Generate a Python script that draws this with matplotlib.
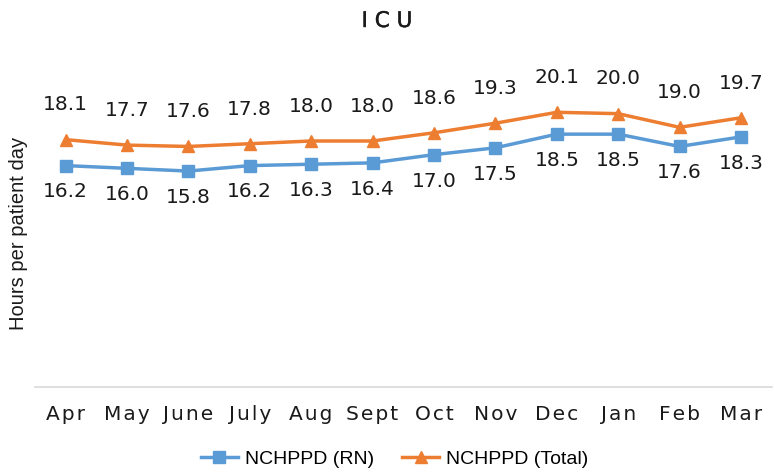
import matplotlib
matplotlib.use("Agg")
import matplotlib.pyplot as plt
import matplotlib.patheffects as pe

plt.rcParams['font.family'] = ['DejaVu Sans']

# 資料
months = ['Apr', 'May', 'June', 'July', 'Aug', 'Sept', 'Oct', 'Nov', 'Dec', 'Jan', 'Feb', 'Mar']
rn = [16.2, 16.0, 15.8, 16.2, 16.3, 16.4, 17.0, 17.5, 18.5, 18.5, 17.6, 18.3]
total = [18.1, 17.7, 17.6, 17.8, 18.0, 18.0, 18.6, 19.3, 20.1, 20.0, 19.0, 19.7]

blue = '#5B9BD5'
orange = '#ED7D31'

fig = plt.figure(figsize=(7.74, 4.72), dpi=100)
ax = fig.add_axes([0.045, 0.18, 0.952, 0.724])

x = list(range(len(months)))
ax.plot(x, rn, color=blue, linewidth=2.5, marker='s', markersize=9, label='NCHPPD (RN)')
ax.plot(x, total, color=orange, linewidth=2.5, marker='^', markersize=9, label='NCHPPD (Total)')

# 數據標籤
for i in x:
    ax.annotate(f'{total[i]:.1f}', (i, total[i]), xytext=(0, 25), textcoords='offset points',
                ha='center', va='center', fontsize=14.5, color='#1a1a1a')
    ax.annotate(f'{rn[i]:.1f}', (i, rn[i]), xytext=(0, -19), textcoords='offset points',
                ha='center', va='center', fontsize=14.5, color='#1a1a1a')

ax.set_xlim(-0.5, len(months) - 0.5)
ax.set_ylim(0, 25)
ax.set_xticks(x)
# 字距加寬
ax.set_xticklabels(['\u200a'.join(m) for m in months], fontsize=14.5, color='#1a1a1a')
ax.set_yticks([])
ax.tick_params(axis='x', length=0, pad=13)

for s in ['top', 'right', 'left']:
    ax.spines[s].set_visible(False)
ax.spines['bottom'].set_color('#D9D9D9')
ax.spines['bottom'].set_linewidth(1.2)

fig.text(19 / 774, 1 - 233 / 472, 'Hours per patient day', rotation=90, ha='center', va='center',
         fontsize=14.5, family='Liberation Sans', color='#1a1a1a')
fig.text(0.5, 1 - 21 / 472, 'I C U', ha='center', va='center', fontsize=15.5, color='#1a1a1a',
         path_effects=[pe.withStroke(linewidth=0.3, foreground='#1a1a1a')])

ax.legend(loc='center', bbox_to_anchor=(394.5 / 774, 1 - 459 / 472), bbox_transform=fig.transFigure,
          ncol=2, frameon=False, prop={'family': 'Liberation Sans', 'size': 14},
          handlelength=1.9, columnspacing=1.45, handletextpad=0.35)

fig.savefig('out.png', dpi=100)
